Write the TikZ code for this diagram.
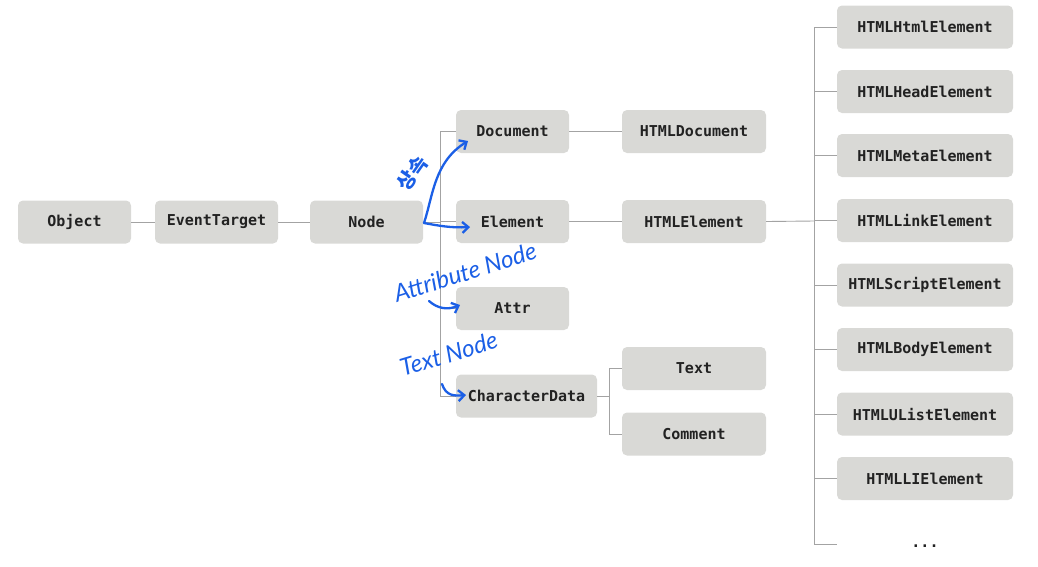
\documentclass[tikz,border=0pt]{standalone}
\usepackage{fontspec}
\setmainfont{DejaVu Sans}
\newfontfamily\boxfont{DejaVu Sans Mono}
\newfontfamily\handfont{Lato}
\newfontfamily\krfont{Noto Sans CJK KR}
\usetikzlibrary{arrows.meta}
\definecolor{boxgray}{HTML}{D9D9D6}
\definecolor{linegray}{HTML}{A3A3A3}
\definecolor{txtdark}{HTML}{222222}
\definecolor{penblue}{HTML}{1B5FE6}
\begin{document}
\begin{tikzpicture}[x=1pt,y=-1pt,
  cls/.style={fill=boxgray,rounded corners=5pt,minimum height=43pt,inner sep=0pt,
    text=txtdark,font=\boxfont\bfseries\fontsize{15}{17}\selectfont},
  wA/.style={cls,minimum width=113pt},
  wB/.style={cls,minimum width=144pt},
  wC/.style={cls,minimum width=176pt},
  conn/.style={draw=linegray,line width=0.9pt},
  pen/.style={draw=penblue,line width=2.3pt,line cap=round,line join=round},
  penarrow/.style={pen,-{Straight Barb[length=6pt,width=11pt,line width=2.3pt]}},
  hand/.style={text=penblue,inner sep=0pt,font=\handfont\itshape\fontsize{24}{26}\selectfont}
]
\useasboundingbox (0,0) rectangle (1038,566);

% first row
\node[wA] (obj) at (74.5,222) {Object};
\node[cls,minimum width=123pt] (evt) at (216.5,222) {EventTarget};
\node[wA] (nde) at (366.5,222) {Node};

% second column
\node[wA] (doc) at (512.5,131.5) {Document};
\node[wA] (elem) at (512.5,221.5) {Element};
\node[wA] (attr) at (512.5,308.5) {Attr};
\node[cls,minimum width=141pt] (cdata) at (526.5,396) {CharacterData};

% third column
\node[wB] (hdoc) at (694,131.5) {HTMLDocument};
\node[wB] (hel) at (694,221.5) {HTMLElement};
\node[wB] (txt) at (694,368.5) {Text};
\node[wB] (cmt) at (694,434) {Comment};

% right column
\node[wC] (r1) at (925,27) {HTMLHtmlElement};
\node[wC] (r2) at (925,91.5) {HTMLHeadElement};
\node[wC] (r3) at (925,155.5) {HTMLMetaElement};
\node[wC] (r4) at (925,220.5) {HTMLLinkElement};
\node[wC] (r5) at (925,285) {HTMLScriptElement};
\node[wC] (r6) at (925,349.5) {HTMLBodyElement};
\node[wC] (r7) at (925,414) {HTMLUListElement};
\node[wC] (r8) at (925,478.5) {HTMLLIElement};
\node[inner sep=0pt,text=txtdark,font=\boxfont\bfseries\fontsize{15}{17}\selectfont] (dots) at (925,546) {...};
\coordinate (rend) at (837,544);

% connectors
\draw[conn] (obj.east) -- (evt.west);
\draw[conn] (evt.east) -- (nde.west);
\coordinate (tA) at (440,222);
\draw[conn] (nde.east) -- (tA);
\draw[conn] (doc.west) -- (doc.west -| tA) |- (cdata.west);
\draw[conn] (elem.west) -- (elem.west -| tA);
\draw[conn] (attr.west) -- (attr.west -| tA);
\draw[conn] (doc.east) -- (hdoc.west);
\draw[conn] (elem.east) -- (hel.west);

\coordinate (tB) at (609,396);
\draw[conn] (cdata.east) -- (tB);
\draw[conn] (txt.west) -- (txt.west -| tB) |- (cmt.west);

\coordinate (tC) at (814,221);
\draw[conn] (hel.east) -- (tC);
\draw[conn] (r1.west) -- (r1.west -| tC) |- (rend);
\foreach \r in {r2,r3,r4,r5,r6,r7,r8}{
  \draw[conn] (\r.west) -- (\r.west -| tC);
}

% handwritten annotations
\coordinate (hs) at (424,223);
\coordinate (hd) at (468,141);
\coordinate (he) at (470,227);
\draw[penarrow] (hs) .. controls (433,196) and (434,162) .. (hd);
\draw[penarrow] (hs) .. controls (440,226) and (452,228) .. (he);
\node[text=penblue,inner sep=0pt,font=\krfont\bfseries\fontsize{20}{22}\selectfont,rotate=55] (inh) at (412,173) {상속};

\node[hand,rotate=17.5,anchor=base west] (attrnote) at (397,303) {Attribute Node};
\coordinate (aa) at (429,301);
\coordinate (ab) at (460,305);
\draw[penarrow] (aa) .. controls (438,309) and (448,310) .. (ab);

\node[hand,rotate=17,anchor=base west] (txtnote) at (403,377) {Text Node};
\coordinate (ta) at (442,384);
\coordinate (tb) at (466,395);
\draw[penarrow] (ta) .. controls (446,396) and (454,396) .. (tb);
\end{tikzpicture}
\end{document}
